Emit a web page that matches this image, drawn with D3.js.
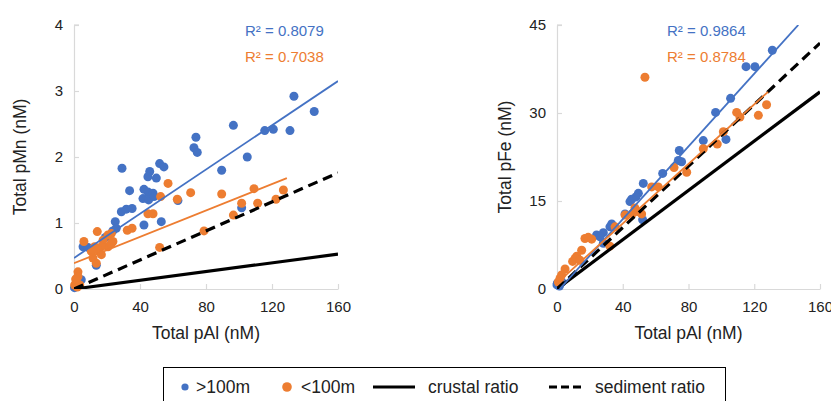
<!DOCTYPE html>
<html>
<head>
<meta charset="utf-8">
<script src="https://cdn.jsdelivr.net/npm/d3@7"></script>
<style>
  html, body { margin: 0; padding: 0; background: #fff; }
  svg { display: block; font-family: "Liberation Sans", Arial, sans-serif; }
</style>
</head>
<body>
<svg id="chart" width="831" height="401"></svg>
<script>
// ---- Data: total particulate Mn / Fe against total particulate Al (nM) ----
// Left panel: pMn vs pAl
const mnDeep = [ // >100m  [pAl, pMn]
  [29.1,1.83],[51.9,1.90],[54.5,1.85],[45.9,1.78],[44.8,1.70],[49.9,1.68],[33.7,1.49],
  [42.4,1.51],[44.8,1.47],[47.9,1.45],[41.8,1.37],[45.2,1.35],[48.5,1.40],[63,1.34],
  [28.7,1.17],[31.7,1.21],[35.2,1.22],[52.9,1.02],[42.4,0.97],[25,1.02],[25.6,0.92],
  [23.5,0.88],[19,0.78],[5.5,0.64],[8.5,0.63],[13.5,0.36],[0.8,0.05],[4.4,0.14],
  [0.3,0.02],[1.5,0.08],[2,0.12],
  [133.3,2.92],[145.6,2.69],[96.6,2.48],[115.6,2.40],[120.8,2.42],[130.9,2.40],
  [73.9,2.30],[72.7,2.14],[74.7,2.07],[105,2.00],[89.5,1.80],[101.6,1.23]
];
const mnShallow = [ // <100m  [pAl, pMn]
  [57,1.60],[70.7,1.46],[52.5,1.40],[62.6,1.36],[44.8,1.14],[47.9,1.14],[32.3,0.89],
  [35.2,0.92],[51.9,0.63],[14.1,0.87],[6,0.72],[17.6,0.74],[20.6,0.82],[22.6,0.84],
  [23.6,0.72],[20.6,0.64],[16.6,0.64],[12.5,0.64],[10.5,0.57],[14.5,0.59],[16.6,0.52],
  [11.5,0.47],[13.5,0.39],[22.6,0.69],[2.4,0.26],[2.4,0.19],[1.4,0.11],[0.4,0.06],
  [3.5,0.06],[1,0.15],[2,0.03],
  [89.5,1.44],[109.1,1.52],[126.9,1.50],[101.6,1.30],[111.3,1.30],[122.4,1.36],
  [96.6,1.12],[78.8,0.88]
];
// Right panel: pFe vs pAl
const feDeep = [ // >100m  [pAl, pFe]
  [131,40.7],[115,37.9],[120.4,37.9],[105.6,32.5],[96.5,30.1],[89,25.3],[102.8,25.5],
  [74.4,23.6],[73.8,21.9],[75.8,21.7],[64.3,19.7],[52.5,18.0],[49.5,16.3],[48,15.7],
  [45.4,15.3],[44.4,14.9],[52.1,11.8],[41.4,12.8],[33.3,11.1],[32.2,10.6],[28.2,9.6],
  [24.1,9.2],[26.2,8.9],[28.2,7.8],[3,1.2],[0.2,1.0],[0,0.7],[1.5,0.5]
];
const feShallow = [ // <100m  [pAl, pFe]
  [53.5,36.1],[127.5,31.4],[122.5,29.6],[109.3,30.1],[111.3,29.3],[101.2,26.8],
  [97.5,24.7],[89,23.9],[71.2,20.7],[78.9,19.9],[61.6,17.4],[57.6,17.4],[47.4,13.8],
  [46,12.9],[48.8,13.2],[41.4,12.6],[51.5,12.8],[35.3,10.6],[32.2,7.3],[17,8.6],
  [19,8.8],[21.1,8.5],[15,6.6],[12,5.6],[11,5.2],[9.5,4.7],[14,4.9],[4.9,3.4],
  [2.8,2.4],[1.8,1.8],[0.8,1.2]
];

// Linear trendlines: [slope, intercept, xStart, xEnd]
const mnDeepFit    = [0.01675, 0.47, 0, 160];
const mnShallowFit = [0.0100, 0.39, 0, 129];
const feDeepFit    = [0.31, -0.5, 1.6, 146.8];
const feShallowFit = [0.254, 1.0, 0, 128.4];

// Reference element ratios (slope through origin)
const mnRatios = { crustal: 0.0033, sediment: 0.011 };
const feRatios = { crustal: 0.21, sediment: 0.262 };

const r2Mn = ["R² = 0.8079", "R² = 0.7038"];
const r2Fe = ["R² = 0.9864", "R² = 0.8784"];

const xTicks = [0, 40, 80, 120, 160];
const mnTicks = [0, 1, 2, 3, 4];
const feTicks = [0, 15, 30, 45];

const legendLabels = [">100m", "<100m", "crustal ratio", "sediment ratio"];

// ---- Styling ----
const BLUE = "#4472C4", ORANGE = "#ED7D31", AXIS = "#d9d9d9";
const svg = d3.select("#chart");
svg.append("rect").attr("width", 831).attr("height", 401).attr("fill", "#fff");

function panel(opts) {
  const x = d3.scaleLinear().domain([0, 160]).range([opts.left, opts.right]);
  const y = d3.scaleLinear().domain([0, opts.yMax]).range([289, 25]);
  const g = svg.append("g");

  // axes
  const gx = g.append("g").attr("transform", "translate(0,289)")
    .call(d3.axisBottom(x).tickValues(xTicks).tickFormat(d3.format("d"))
      .tickSize(-5).tickPadding(12.5).tickSizeOuter(0));
  const gy = g.append("g").attr("transform", `translate(${opts.left},0)`)
    .call(d3.axisLeft(y).tickValues(opts.yTicks).tickFormat(d3.format("d"))
      .tickSize(-5).tickPadding(11).tickSizeOuter(0));
  [gx, gy].forEach(a => {
    a.select(".domain").attr("stroke", AXIS).attr("stroke-width", 1.2);
    a.selectAll(".tick line").attr("stroke", AXIS).attr("stroke-width", 1.2);
    a.selectAll(".tick text").attr("fill", "#222").attr("font-size", 15)
      .attr("font-family", "Liberation Sans, Arial, sans-serif");
  });
  // top cap on y axis
  g.append("line").attr("x1", opts.left).attr("x2", opts.left + 5)
    .attr("y1", y(opts.yMax)).attr("y2", y(opts.yMax)).attr("stroke", AXIS).attr("stroke-width", 1.2);

  // axis titles
  g.append("text").attr("x", (opts.left + opts.right) / 2).attr("y", 339)
    .attr("text-anchor", "middle").attr("font-size", 17.5).attr("fill", "#222")
    .text("Total pAl (nM)");
  g.append("text").attr("transform", `translate(${opts.titleX},157) rotate(-90)`)
    .attr("text-anchor", "middle").attr("font-size", 17.5).attr("fill", "#222")
    .text(opts.yTitle);

  // points
  const plotPts = (data, color) => g.append("g").selectAll("circle").data(data).join("circle")
    .attr("cx", d => x(d[0])).attr("cy", d => y(d[1])).attr("r", 4.5).attr("fill", color);
  plotPts(opts.deep, BLUE);
  plotPts(opts.shallow, ORANGE);

  // clip for lines
  const clipId = "clip" + opts.left;
  svg.append("clipPath").attr("id", clipId).append("rect")
    .attr("x", opts.left).attr("y", 25).attr("width", opts.right - opts.left).attr("height", 264);
  const lg = g.append("g").attr("clip-path", `url(#${clipId})`);

  const ratioLine = (slope, dash) => lg.append("line")
    .attr("x1", x(0)).attr("y1", y(0)).attr("x2", x(160)).attr("y2", y(slope * 160))
    .attr("stroke", "#000").attr("stroke-width", 3.2)
    .attr("stroke-dasharray", dash ? "10 6" : null);
  ratioLine(opts.ratios.crustal, false);
  ratioLine(opts.ratios.sediment, true);

  const fitLine = (f, color) => lg.append("line")
    .attr("x1", x(f[2])).attr("y1", y(f[0] * f[2] + f[1]))
    .attr("x2", x(f[3])).attr("y2", y(f[0] * f[3] + f[1]))
    .attr("stroke", color).attr("stroke-width", 1.8);
  fitLine(opts.deepFit, BLUE);
  fitLine(opts.shallowFit, ORANGE);

  // R² labels
  g.append("text").attr("x", opts.r2X).attr("y", 36).attr("font-size", 15)
    .attr("fill", BLUE).text(opts.r2[0]);
  g.append("text").attr("x", opts.r2X).attr("y", 62).attr("font-size", 15)
    .attr("fill", ORANGE).text(opts.r2[1]);
}

panel({ left: 74, right: 338, yMax: 4, yTicks: mnTicks, yTitle: "Total pMn (nM)", titleX: 26,
  deep: mnDeep, shallow: mnShallow, deepFit: mnDeepFit, shallowFit: mnShallowFit,
  ratios: mnRatios, r2: r2Mn, r2X: 245 });
panel({ left: 557, right: 820, yMax: 45, yTicks: feTicks, yTitle: "Total pFe (nM)", titleX: 511,
  deep: feDeep, shallow: feShallow, deepFit: feDeepFit, shallowFit: feShallowFit,
  ratios: feRatios, r2: r2Fe, r2X: 667 });

// ---- Legend ----
const leg = svg.append("g");
leg.append("rect").attr("x", 163.5).attr("y", 367.5).attr("width", 562).attr("height", 45)
  .attr("fill", "none").attr("stroke", "#000").attr("stroke-width", 1);
const ly = 387;
leg.append("circle").attr("cx", 185).attr("cy", ly).attr("r", 3.6).attr("fill", BLUE);
leg.append("circle").attr("cx", 287).attr("cy", ly).attr("r", 4.8).attr("fill", ORANGE);
leg.append("line").attr("x1", 373).attr("x2", 415).attr("y1", ly).attr("y2", ly)
  .attr("stroke", "#000").attr("stroke-width", 3);
leg.append("line").attr("x1", 549).attr("x2", 584).attr("y1", ly).attr("y2", ly)
  .attr("stroke", "#000").attr("stroke-width", 3).attr("stroke-dasharray", "8 4");
const lx = [196, 301, 428, 595];
leg.selectAll("text.l").data(legendLabels).join("text").attr("class", "l")
  .attr("x", (d, i) => lx[i]).attr("y", ly + 6).attr("font-size", 17.5).attr("fill", "#222")
  .text(d => d);
</script>
</body>
</html>
